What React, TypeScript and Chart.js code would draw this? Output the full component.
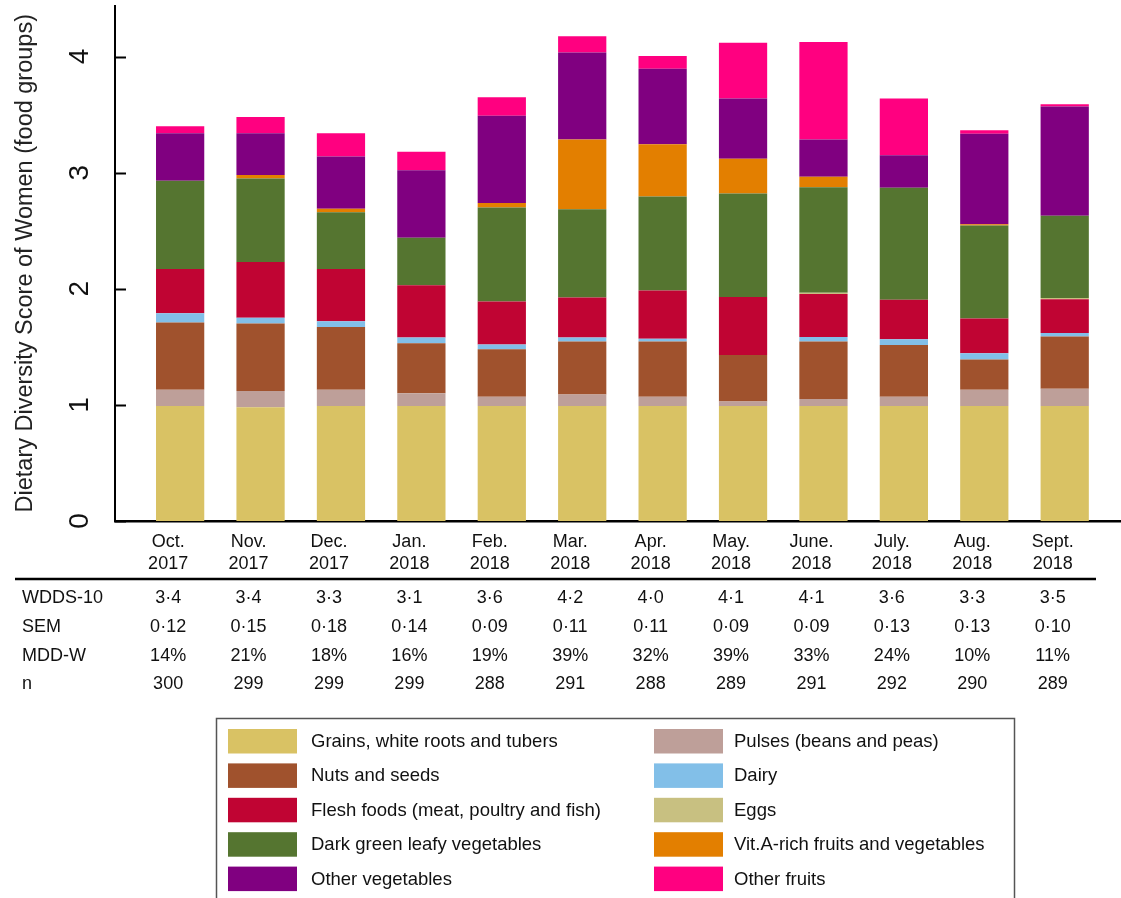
import React, { useEffect, useRef } from "react";
import { Chart, registerables } from "chart.js";

Chart.register(...registerables);

const FONT = '"Liberation Sans", Arial, Helvetica, sans-serif';

// Categories
const months = ["Oct.", "Nov.", "Dec.", "Jan.", "Feb.", "Mar.", "Apr.", "May.", "June.", "July.", "Aug.", "Sept."];
const years = ["2017", "2017", "2017", "2018", "2018", "2018", "2018", "2018", "2018", "2018", "2018", "2018"];

// Series (mean food groups consumed, stacked bottom to top)
const grains = [0.99, 0.98, 0.99, 0.99, 0.99, 0.99, 0.99, 0.99, 0.99, 0.99, 0.99, 0.99];
const pulses = [0.14, 0.14, 0.14, 0.11, 0.08, 0.1, 0.08, 0.04, 0.06, 0.08, 0.14, 0.15];
const nuts = [0.58, 0.58, 0.54, 0.43, 0.41, 0.455, 0.475, 0.4, 0.495, 0.445, 0.26, 0.45];
const dairy = [0.08, 0.05, 0.05, 0.05, 0.04, 0.035, 0.025, 0, 0.04, 0.05, 0.055, 0.03];
const flesh = [0.38, 0.48, 0.45, 0.45, 0.37, 0.345, 0.415, 0.5, 0.37, 0.34, 0.3, 0.29];
const eggs = [0, 0, 0, 0, 0, 0, 0, 0, 0.01, 0, 0, 0.01];
const darkGreen = [0.76, 0.72, 0.49, 0.41, 0.81, 0.76, 0.81, 0.89, 0.91, 0.965, 0.8, 0.71];
const vitA = [0, 0.03, 0.03, 0, 0.04, 0.6, 0.45, 0.3, 0.09, 0, 0.01, 0];
const otherVeg = [0.41, 0.36, 0.45, 0.58, 0.75, 0.75, 0.65, 0.52, 0.32, 0.28, 0.78, 0.94];
const otherFruits = [0.06, 0.14, 0.2, 0.16, 0.16, 0.14, 0.11, 0.48, 0.84, 0.49, 0.03, 0.02];

// Y tick labels
const yTickValues = [0, 1, 2, 3, 4];

// Table below the chart
const tableRowLabels = ["WDDS-10", "SEM", "MDD-W", "n"];
const wdds = ["3·4", "3·4", "3·3", "3·1", "3·6", "4·2", "4·0", "4·1", "4·1", "3·6", "3·3", "3·5"];
const sem = ["0·12", "0·15", "0·18", "0·14", "0·09", "0·11", "0·11", "0·09", "0·09", "0·13", "0·13", "0·10"];
const mddw = ["14%", "21%", "18%", "16%", "19%", "39%", "32%", "39%", "33%", "24%", "10%", "11%"];
const nValues = ["300", "299", "299", "299", "288", "291", "288", "289", "291", "292", "290", "289"];
const tableRows = [wdds, sem, mddw, nValues];

const seriesLabels = [
  "Grains, white roots and tubers",
  "Pulses (beans and peas)",
  "Nuts and seeds",
  "Dairy",
  "Flesh foods (meat, poultry and fish)",
  "Eggs",
  "Dark green leafy vegetables",
  "Vit.A-rich fruits and vegetables",
  "Other vegetables",
  "Other fruits",
];
const seriesData = [grains, pulses, nuts, dairy, flesh, eggs, darkGreen, vitA, otherVeg, otherFruits];
const seriesColors = [
  "#D9C264",
  "#BE9F99",
  "#A0522D",
  "#82BFE8",
  "#C00433",
  "#C8C081",
  "#557530",
  "#E37F00",
  "#800080",
  "#FF0080",
];

const overlayPlugin = {
  id: "overlay",
  afterDraw(chart: any) {
    const ctx = chart.ctx as CanvasRenderingContext2D;
    const xs = chart.scales.x;
    const ys = chart.scales.y;
    const area = chart.chartArea;
    ctx.save();

    // inner tick marks
    ctx.strokeStyle = "#000";
    ctx.lineWidth = 2;
    yTickValues.forEach((v) => {
      const py = Math.round(ys.getPixelForValue(v)) + 0.5;
      ctx.beginPath();
      ctx.moveTo(area.left, py);
      ctx.lineTo(area.left + 11, py);
      ctx.stroke();
    });

    // rotated y tick labels
    ctx.fillStyle = "#111";
    ctx.font = `28px ${FONT}`;
    ctx.textAlign = "center";
    ctx.textBaseline = "alphabetic";
    yTickValues.forEach((v) => {
      const py = ys.getPixelForValue(v);
      ctx.save();
      ctx.translate(area.left - 27, py);
      ctx.rotate(-Math.PI / 2);
      ctx.fillText(String(v), 0, 0);
      ctx.restore();
    });

    // category labels
    ctx.font = `18px ${FONT}`;
    ctx.textBaseline = "middle";
    ctx.fillStyle = "#111";
    months.forEach((m, i) => {
      const px = xs.getPixelForValue(i) - 12;
      ctx.fillText(m, px, area.bottom + 21);
      ctx.fillText(years[i], px, area.bottom + 43);
    });

    // table rule
    ctx.strokeStyle = "#000";
    ctx.lineWidth = 2.5;
    ctx.beginPath();
    ctx.moveTo(15, area.bottom + 58);
    ctx.lineTo(1096, area.bottom + 58);
    ctx.stroke();

    // table rows
    ctx.textBaseline = "alphabetic";
    const baselines = [603, 632, 661, 689];
    tableRows.forEach((row, r) => {
      ctx.textAlign = "left";
      ctx.fillText(tableRowLabels[r], 22, baselines[r]);
      ctx.textAlign = "center";
      row.forEach((val, i) => {
        ctx.fillText(val, xs.getPixelForValue(i) - 12, baselines[r]);
      });
    });

    // legend box
    ctx.strokeStyle = "#555";
    ctx.lineWidth = 1.5;
    ctx.strokeRect(216.5, 718.5, 798, 200);
    const ds = chart.data.datasets;
    ctx.font = `18.5px ${FONT}`;
    ctx.textAlign = "left";
    ctx.textBaseline = "middle";
    ds.forEach((d: any, k: number) => {
      const col = k % 2;
      const row = Math.floor(k / 2);
      const sx = col === 0 ? 228 : 654;
      const tx = col === 0 ? 311 : 734;
      const top = 729 + row * 34.4;
      ctx.fillStyle = d.backgroundColor;
      ctx.fillRect(sx, top, 69, 24.5);
      ctx.fillStyle = "#111";
      ctx.fillText(d.label, tx, top + 13);
    });

    ctx.restore();
  },
};

export default function App() {
  const canvasRef = useRef<HTMLCanvasElement | null>(null);

  useEffect(() => {
    document.body.style.margin = "0";
    const canvas = canvasRef.current;
    if (!canvas) return;
    const chart = new Chart(canvas, {
      type: "bar",
      data: {
        datasets: seriesData.map((vals, k) => ({
          label: seriesLabels[k],
          data: vals.map((v, i) => ({ x: i, y: v })),
          backgroundColor: seriesColors[k],
          borderWidth: 0,
          barPercentage: 0.6,
          categoryPercentage: 1.0,
        })),
      },
      options: {
        responsive: false,
        animation: false,
        devicePixelRatio: 1,
        layout: { padding: { top: 5.5, bottom: 377, left: 0, right: 0 } },
        plugins: {
          legend: { display: false },
          tooltip: { enabled: false },
        },
        scales: {
          x: {
            type: "linear",
            min: -0.81,
            max: 11.7,
            offset: false,
            stacked: true,
            ticks: { display: false, stepSize: 1, includeBounds: false },
            grid: { display: false, drawTicks: false, offset: false },
            border: { display: true, color: "#000", width: 2.5 },
            afterFit: (s: any) => {
              s.height = 0;
            },
          },
          y: {
            min: 0,
            max: 4.44,
            stacked: true,
            ticks: { display: false },
            grid: { display: false, drawTicks: false },
            border: { display: true, color: "#000", width: 2 },
            title: {
              display: true,
              text: "Dietary Diversity Score of Women (food groups)",
              color: "#222",
              font: { family: FONT, size: 23.5 },
              padding: { top: 11, bottom: 0 },
            },
            afterFit: (s: any) => {
              s.width = 115;
            },
          },
        },
      } as any,
      plugins: [overlayPlugin],
    });
    return () => chart.destroy();
  }, []);

  return (
    <div style={{ width: 1121, height: 898, background: "#fff" }}>
      <canvas ref={canvasRef} width={1121} height={898} style={{ width: 1121, height: 898, display: "block" }} />
    </div>
  );
}
